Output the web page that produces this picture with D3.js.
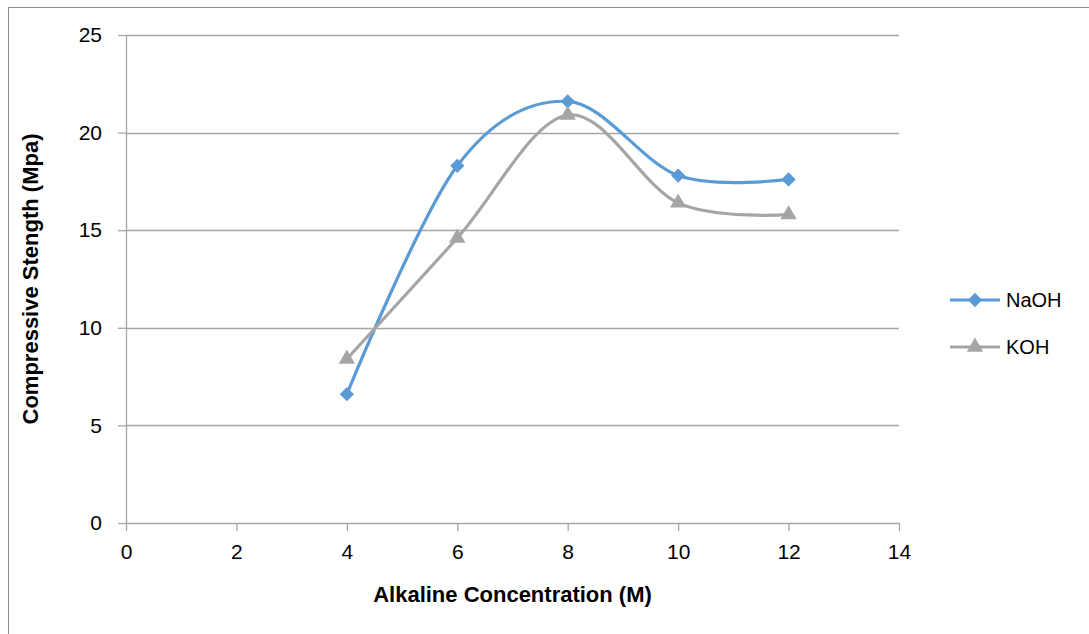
<!DOCTYPE html>
<html>
<head>
<meta charset="utf-8">
<script src="https://cdn.jsdelivr.net/npm/d3@7"></script>
<style>
    body { margin: 0; background: #fff; }
    svg { display: block; font-family: "Liberation Sans", Arial, sans-serif; }
</style>
</head>
<body>
<div class="chart"></div>
<script>
// Chart data
const concentrations = [4, 6, 8, 10, 12];
const naohValues = [6.6, 18.3, 21.6, 17.8, 17.6];
const kohValues = [8.4, 14.6, 20.9, 16.4, 15.8];
const xTicks = [0, 2, 4, 6, 8, 10, 12, 14];
const yTicks = [0, 5, 10, 15, 20, 25];

const series = [
    { name: "NaOH", values: naohValues, color: "#5b9bd5", symbol: d3.symbolDiamond2, size: 130 },
    { name: "KOH", values: kohValues, color: "#a5a5a5", symbol: d3.symbolTriangle, size: 115 },
];

let width = 1089;
let height = 634;

let margin = { top: 35, right: 190, bottom: 111, left: 126 };
let plotW = width - margin.left - margin.right;
let plotH = height - margin.top - margin.bottom;

const svg = d3
    .select(".chart")
    .append("svg")
    .attr("width", width)
    .attr("height", height);

// outer chart border
svg.append("rect")
    .attr("x", 8.5)
    .attr("y", 7.5)
    .attr("width", 1200)
    .attr("height", 800)
    .attr("fill", "none")
    .attr("stroke", "#8c8c8c")
    .attr("stroke-width", 1);

const g = svg.append("g").attr("transform", `translate(${margin.left},${margin.top})`);

const x = d3.scaleLinear().domain([0, 14]).range([0, plotW]);
const y = d3.scaleLinear().domain([0, 25]).range([plotH, 0]);

// gridlines
g.append("g")
    .selectAll("line")
    .data(yTicks.filter((d) => d > 0))
    .join("line")
    .attr("x1", 0)
    .attr("x2", plotW)
    .attr("y1", (d) => Math.round(y(d)) + 0.5)
    .attr("y2", (d) => Math.round(y(d)) + 0.5)
    .attr("stroke", "#a6a6a6")
    .attr("stroke-width", 1.3);

// axes
const yAxis = g.append("g")
    .call(d3.axisLeft(y).tickValues(yTicks).tickSize(8).tickPadding(16).tickSizeOuter(0));
const xAxis = g.append("g")
    .attr("transform", `translate(0,${plotH})`)
    .call(d3.axisBottom(x).tickValues(xTicks).tickSize(8).tickPadding(13).tickSizeOuter(0));

[xAxis, yAxis].forEach((a) => {
    a.select(".domain").attr("stroke", "#a6a6a6").attr("stroke-width", 1.3);
    a.selectAll(".tick line").attr("stroke", "#a6a6a6").attr("stroke-width", 1.3);
    a.selectAll(".tick text")
        .attr("fill", "#000")
        .attr("font-size", "21px")
        .attr("font-family", "Liberation Sans, Arial, sans-serif");
});

// axis titles
svg.append("text")
    .attr("x", margin.left + plotW / 2)
    .attr("y", 602)
    .attr("text-anchor", "middle")
    .attr("font-size", "22px")
    .attr("font-weight", "bold")
    .text("Alkaline Concentration (M)");

svg.append("text")
    .attr("transform", `translate(38,${margin.top + plotH / 2}) rotate(-90)`)
    .attr("text-anchor", "middle")
    .attr("font-size", "22px")
    .attr("font-weight", "bold")
    .text("Compressive Stength (Mpa)");

// smoothed lines
const line = d3
    .line()
    .x((d) => x(d[0]))
    .y((d) => y(d[1]))
    .curve(d3.curveCatmullRom.alpha(0));

series.forEach((s) => {
    const pts = concentrations.map((c, i) => [c, s.values[i]]);
    g.append("path")
        .datum(pts)
        .attr("d", line)
        .attr("fill", "none")
        .attr("stroke", s.color)
        .attr("stroke-width", 3.2)
        .attr("stroke-linejoin", "round");

    g.append("g")
        .selectAll("path")
        .data(pts)
        .join("path")
        .attr("transform", (d) => `translate(${x(d[0])},${y(d[1])})`)
        .attr("d", d3.symbol().type(s.symbol).size(s.size))
        .attr("fill", s.color);
});

// legend
const legend = svg.append("g").attr("transform", "translate(950,300)");
series.forEach((s, i) => {
    const row = legend.append("g").attr("transform", `translate(0,${i * 47})`);
    row.append("line")
        .attr("x1", 0)
        .attr("x2", 50)
        .attr("stroke", s.color)
        .attr("stroke-width", 3.2);
    row.append("path")
        .attr("transform", "translate(25,0)")
        .attr("d", d3.symbol().type(s.symbol).size(s.size))
        .attr("fill", s.color);
    row.append("text")
        .attr("x", 56)
        .attr("y", 7)
        .attr("font-size", "20px")
        .text(s.name);
});
</script>
</body>
</html>
